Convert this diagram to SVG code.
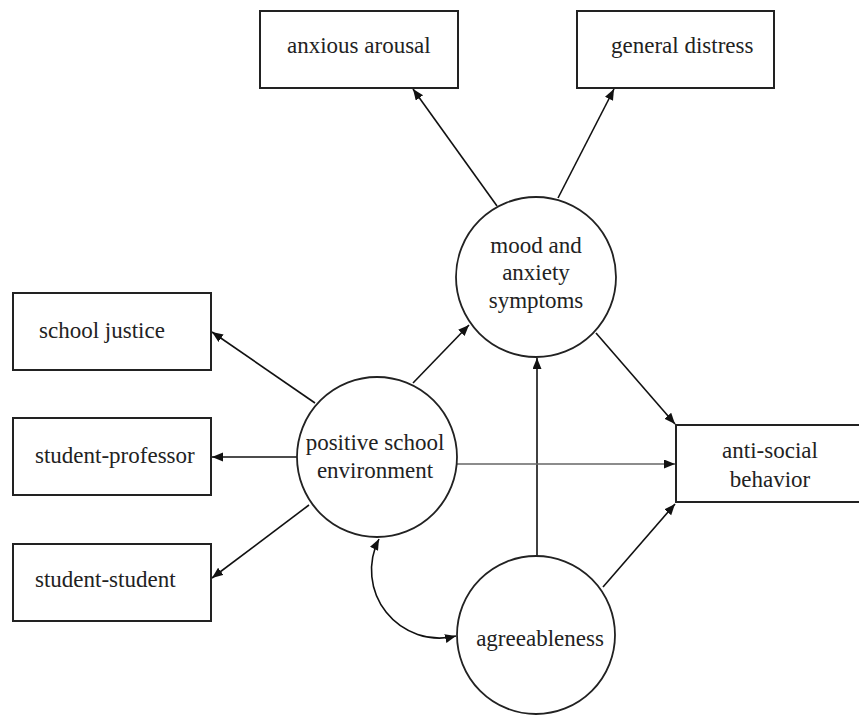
<svg xmlns="http://www.w3.org/2000/svg" width="859" height="715" viewBox="0 0 859 715">
<style>
.box{fill:#fff;stroke:#222;stroke-width:2}
.circ{fill:#fff;stroke:#222;stroke-width:1.8}
.t{font-family:"Liberation Serif","Times New Roman",serif;font-size:23px;fill:#222}
.c{text-anchor:middle}
.ln{fill:none;stroke:#111;stroke-width:1.6;marker-end:url(#ah)}
.thin{stroke:#666;stroke-width:1.3}
.dbl{fill:none;stroke:#111;stroke-width:1.6;marker-start:url(#ah);marker-end:url(#ah)}
</style>
<defs>
<marker id="ah" markerUnits="userSpaceOnUse" markerWidth="12" markerHeight="10" refX="11" refY="4.5" orient="auto-start-reverse">
<path d="M0,0 L11,4.5 L0,9 z" fill="#111"/>
</marker>
</defs>
<rect width="859" height="715" fill="#fff"/>
<g id="connectors">
<line class="ln" x1="497" y1="206" x2="413" y2="89"/>
<line class="ln" x1="558" y1="198" x2="614" y2="89"/>
<line class="ln" x1="413" y1="383" x2="469" y2="325"/>
<line class="ln" x1="596" y1="333" x2="675" y2="424"/>
<line class="ln" x1="537" y1="556" x2="537" y2="358"/>
<line class="ln thin" x1="457" y1="464" x2="675" y2="464"/>
<line class="ln" x1="603" y1="587" x2="675" y2="504"/>
<line class="ln" x1="315" y1="403" x2="212" y2="332"/>
<line class="ln" x1="297" y1="457" x2="212" y2="457"/>
<line class="ln" x1="309" y1="505" x2="212" y2="578"/>
<path class="dbl" d="M379,539 A68,68 0 0 0 456,636"/>
</g>
<g id="anxious-arousal">
<rect class="box" x="260" y="11" width="198" height="77"/>
<text class="t" x="287" y="53">anxious arousal</text>
</g>
<g id="general-distress">
<rect class="box" x="577" y="11" width="197" height="77"/>
<text class="t" x="611" y="53">general distress</text>
</g>
<g id="school-justice">
<rect class="box" x="13" y="293" width="198" height="77"/>
<text class="t" x="39" y="338">school justice</text>
</g>
<g id="student-professor">
<rect class="box" x="13" y="418" width="198" height="77"/>
<text class="t" x="35" y="463">student-professor</text>
</g>
<g id="student-student">
<rect class="box" x="13" y="544" width="198" height="77"/>
<text class="t" x="35" y="587">student-student</text>
</g>
<g id="anti-social-behavior">
<rect class="box" x="676" y="425" width="200" height="77"/>
<text class="t c" x="770" y="458">anti-social</text>
<text class="t c" x="770" y="487">behavior</text>
</g>
<g id="mood-anxiety">
<circle class="circ" cx="536" cy="277" r="80"/>
<text class="t c" x="536" y="253">mood and</text>
<text class="t c" x="536" y="280">anxiety</text>
<text class="t c" x="536" y="308">symptoms</text>
</g>
<g id="positive-school-environment">
<circle class="circ" cx="377" cy="457" r="80"/>
<text class="t c" x="375" y="450">positive school</text>
<text class="t c" x="375" y="478">environment</text>
</g>
<g id="agreeableness">
<circle class="circ" cx="536" cy="635" r="79"/>
<text class="t c" x="540" y="646">agreeableness</text>
</g>
</svg>
